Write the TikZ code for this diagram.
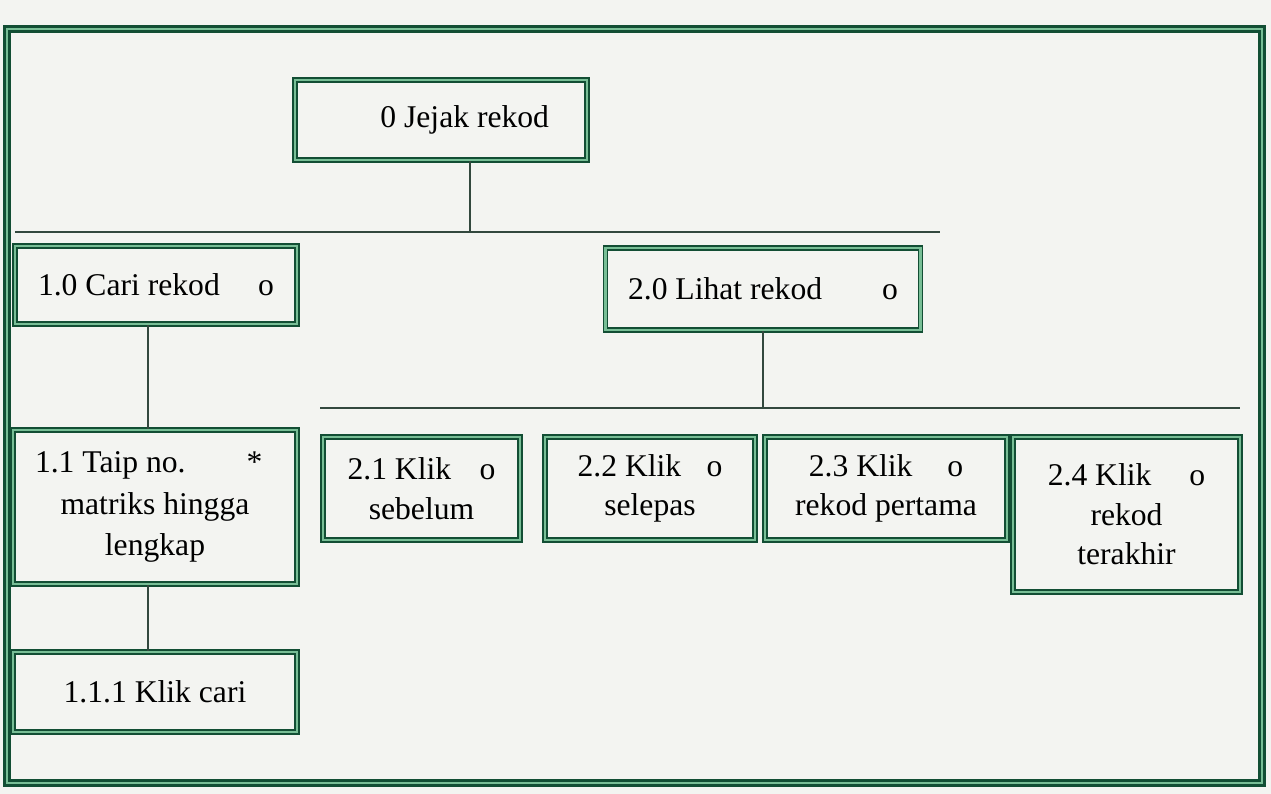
\documentclass[tikz,border=0pt]{standalone}
\usepackage{fontspec}
\setmainfont{Liberation Serif}
\usetikzlibrary{positioning}
\definecolor{boxdark}{RGB}{18,78,52}
\definecolor{boxlight}{RGB}{120,190,150}
\definecolor{wire}{RGB}{50,72,62}
\definecolor{paper}{RGB}{243,244,241}
\tikzset{
  proc/.style={draw=boxdark, double=boxlight, line width=0.9pt, double distance=1.3pt, fill=paper,
    font=\fontsize{18}{22.5}\selectfont, inner sep=0pt, align=center},
  outerframe/.style={draw=boxdark, double=boxlight, line width=2pt, double distance=1.1pt},
  link/.style={draw=wire, line width=0.8pt},
}
\begin{document}
\begin{tikzpicture}[x=0.02cm,y=-0.02cm]
  \useasboundingbox[fill=paper] (0,0) rectangle (1271,794);
  \draw[outerframe] (7,29) rectangle (1262,783);
  % level 0
  \node[proc, minimum width=5.84cm, minimum height=1.6cm] (root) at (441,120) {\hspace*{1.5em}0 Jejak rekod};
  % level 1
  \node[proc, minimum width=5.64cm, minimum height=1.56cm] (cari) at (156,285)
    {\hbox to 4.72cm{1.0 Cari rekod\hfill o}};
  \node[proc, minimum width=6.3cm, minimum height=1.64cm] (lihat) at (763,289)
    {\hbox to 5.4cm{2.0 Lihat rekod\hfill o}};
  % branch 1.x
  \node[proc, minimum width=5.68cm, minimum height=3.08cm, font=\fontsize{18}{23.5}\selectfont] (taip) at (155,507)
    {\hbox to 4.8cm{1.1 Taip no.\hfill *\hspace{0.4em}}\\ matriks hingga\\ lengkap};
  \node[proc, minimum width=5.68cm, minimum height=1.6cm] (klikcari) at (155,692) {1.1.1 Klik cari};
  % branch 2.x
  \node[proc, minimum width=3.94cm, minimum height=2.06cm] (sebelum) at (421.5,488.5) {2.1 Klik\hspace{0.9em}o\\ sebelum};
  \node[proc, minimum width=4.2cm, minimum height=2.06cm] (selepas) at (650,488.5) {2.2 Klik\hspace{0.8em}o\\ selepas};
  \node[proc, minimum width=4.84cm, minimum height=2.06cm] (pertama) at (886,488.5) {2.3 Klik\hspace{1.1em}o\\ rekod pertama};
  \node[proc, minimum width=4.54cm, minimum height=3.1cm] (terakhir) at (1126.5,514.5) {2.4 Klik\hspace{1.2em}o\\ rekod\\ terakhir};
  % bars and drops
  \coordinate (barA) at (15,232);
  \coordinate (barB) at (940,232);
  \coordinate (barC) at (320,408);
  \coordinate (barD) at (1240,408);
  \coordinate (rootdrop) at (470,232);
  \coordinate (spine) at (148,0);
  \draw[link] (barA) -- (barB);
  \draw[link] (barC) -- (barD);
  \draw[link] (rootdrop |- root.south) -- (rootdrop);
  \draw[link] (lihat.south) -- (lihat.south |- barC);
  \draw[link] (spine |- cari.south) -- (spine |- taip.north);
  \draw[link] (spine |- taip.south) -- (spine |- klikcari.north);
\end{tikzpicture}
\end{document}
